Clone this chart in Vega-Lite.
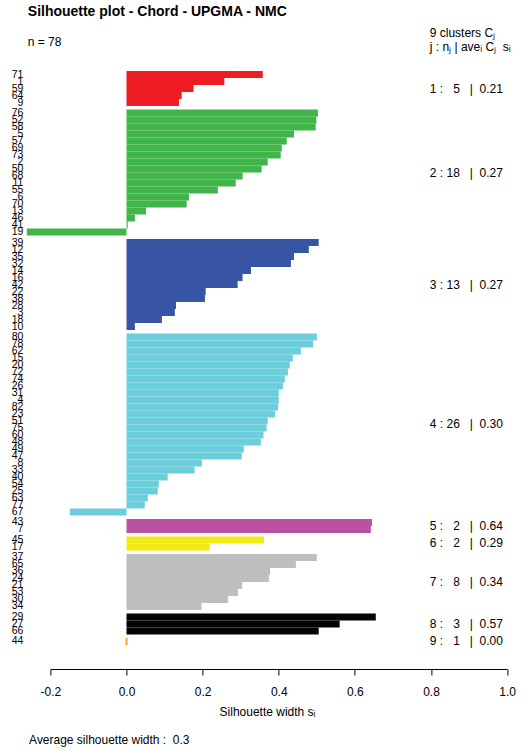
{
  "$schema": "https://vega.github.io/schema/vega-lite/v6.json",
  "padding": {"left": 10.4, "top": 5, "right": 21, "bottom": 5},
  "title": {
    "text": "Silhouette plot - Chord - UPGMA - NMC",
    "subtitle": "n = 78",
    "anchor": "start",
    "frame": "group",
    "dx": -22.6,
    "offset": -21,
    "fontSize": 14,
    "fontWeight": "bold",
    "subtitleFontSize": 12,
    "subtitlePadding": 18
  },
  "data": {
    "values": [
      {"cluster": 1, "id": "71", "s": 0.358},
      {"cluster": 1, "id": "1", "s": 0.257},
      {"cluster": 1, "id": "59", "s": 0.176},
      {"cluster": 1, "id": "64", "s": 0.145},
      {"cluster": 1, "id": "9", "s": 0.138},
      {"cluster": 2, "id": "76", "s": 0.503},
      {"cluster": 2, "id": "52", "s": 0.499},
      {"cluster": 2, "id": "58", "s": 0.497},
      {"cluster": 2, "id": "5", "s": 0.44},
      {"cluster": 2, "id": "57", "s": 0.421},
      {"cluster": 2, "id": "69", "s": 0.408},
      {"cluster": 2, "id": "73", "s": 0.405},
      {"cluster": 2, "id": "2", "s": 0.371},
      {"cluster": 2, "id": "50", "s": 0.355},
      {"cluster": 2, "id": "68", "s": 0.305},
      {"cluster": 2, "id": "11", "s": 0.287},
      {"cluster": 2, "id": "55", "s": 0.24},
      {"cluster": 2, "id": "6", "s": 0.164},
      {"cluster": 2, "id": "70", "s": 0.158},
      {"cluster": 2, "id": "13", "s": 0.051},
      {"cluster": 2, "id": "46", "s": 0.022},
      {"cluster": 2, "id": "41", "s": 0.003},
      {"cluster": 2, "id": "19", "s": -0.262},
      {"cluster": 3, "id": "39", "s": 0.505},
      {"cluster": 3, "id": "12", "s": 0.479},
      {"cluster": 3, "id": "35", "s": 0.44},
      {"cluster": 3, "id": "32", "s": 0.432},
      {"cluster": 3, "id": "14", "s": 0.327},
      {"cluster": 3, "id": "16", "s": 0.305},
      {"cluster": 3, "id": "42", "s": 0.292},
      {"cluster": 3, "id": "22", "s": 0.208},
      {"cluster": 3, "id": "38", "s": 0.206},
      {"cluster": 3, "id": "28", "s": 0.13},
      {"cluster": 3, "id": "3", "s": 0.127},
      {"cluster": 3, "id": "18", "s": 0.093},
      {"cluster": 3, "id": "10", "s": 0.022},
      {"cluster": 4, "id": "80", "s": 0.5},
      {"cluster": 4, "id": "78", "s": 0.49},
      {"cluster": 4, "id": "62", "s": 0.458},
      {"cluster": 4, "id": "15", "s": 0.437},
      {"cluster": 4, "id": "20", "s": 0.429},
      {"cluster": 4, "id": "72", "s": 0.424},
      {"cluster": 4, "id": "74", "s": 0.416},
      {"cluster": 4, "id": "26", "s": 0.411},
      {"cluster": 4, "id": "31", "s": 0.4},
      {"cluster": 4, "id": "4", "s": 0.4},
      {"cluster": 4, "id": "82", "s": 0.398},
      {"cluster": 4, "id": "23", "s": 0.39},
      {"cluster": 4, "id": "51", "s": 0.371},
      {"cluster": 4, "id": "75", "s": 0.368},
      {"cluster": 4, "id": "60", "s": 0.36},
      {"cluster": 4, "id": "48", "s": 0.353},
      {"cluster": 4, "id": "49", "s": 0.308},
      {"cluster": 4, "id": "47", "s": 0.303},
      {"cluster": 4, "id": "8", "s": 0.198},
      {"cluster": 4, "id": "33", "s": 0.179},
      {"cluster": 4, "id": "40", "s": 0.108},
      {"cluster": 4, "id": "54", "s": 0.085},
      {"cluster": 4, "id": "25", "s": 0.082},
      {"cluster": 4, "id": "63", "s": 0.056},
      {"cluster": 4, "id": "77", "s": 0.048},
      {"cluster": 4, "id": "67", "s": -0.149},
      {"cluster": 5, "id": "43", "s": 0.645},
      {"cluster": 5, "id": "7", "s": 0.642},
      {"cluster": 6, "id": "45", "s": 0.361},
      {"cluster": 6, "id": "17", "s": 0.219},
      {"cluster": 7, "id": "37", "s": 0.5},
      {"cluster": 7, "id": "65", "s": 0.445},
      {"cluster": 7, "id": "36", "s": 0.377},
      {"cluster": 7, "id": "24", "s": 0.374},
      {"cluster": 7, "id": "21", "s": 0.304},
      {"cluster": 7, "id": "53", "s": 0.293},
      {"cluster": 7, "id": "30", "s": 0.267},
      {"cluster": 7, "id": "34", "s": 0.197},
      {"cluster": 8, "id": "29", "s": 0.655},
      {"cluster": 8, "id": "27", "s": 0.56},
      {"cluster": 8, "id": "66", "s": 0.505},
      {"cluster": 9, "id": "44", "s": 0}
    ]
  },
  "spacing": 3.5,
  "bounds": "flush",
  "resolve": {
    "scale": {"x": "independent", "y": "independent", "color": "shared"},
    "axis": {"x": "independent", "y": "independent"}
  },
  "vconcat": [
    {
      "width": 456.7,
      "height": {"step": 7},
      "title": {
        "text": "9 clusters Cⱼ",
        "subtitle": "\u00a0j : nⱼ | aveᵢ Cⱼ\u00a0\u00a0sᵢ",
        "anchor": "start",
        "frame": "group",
        "dx": 379.4,
        "offset": 15,
        "fontSize": 12,
        "fontWeight": "normal",
        "subtitleFontSize": 12,
        "subtitlePadding": 2
      },
      "layer": [
        {
          "transform": [{"filter": "datum.cluster == 1"}],
          "mark": {"type": "bar"},
          "encoding": {
            "y": {"field": "id", "type": "nominal", "sort": null, "title": null, "scale": {"paddingInner": 0, "paddingOuter": 0}},
            "x": {"field": "s", "type": "quantitative", "scale": {"domain": [-0.2, 1], "nice": false, "zero": false}, "axis": null},
            "color": {"field": "cluster", "type": "nominal", "legend": null, "scale": {"domain": [1, 2, 3, 4, 5, 6, 7, 8, 9], "range": ["#EE1D24", "#40B549", "#3854A5", "#6CCDDC", "#B9529F", "#F1EA15", "#BEBEBE", "#050505", "#F5A81C"]}}
          }
        },
        {
          "transform": [
            {"filter": "datum.cluster == 1"},
            {"aggregate": [{"op": "mean", "field": "s", "as": "ave"}, {"op": "count", "as": "n"}], "groupby": ["cluster"]},
            {"calculate": "datum.cluster + '\u00a0:' + (datum.n < 10 ? '\u00a0\u00a0\u00a0' : '\u00a0') + datum.n + '\u00a0\u00a0\u00a0|\u00a0\u00a0' + format(datum.ave, '.2f')", "as": "label"}
          ],
          "mark": {"type": "text", "align": "left", "fontSize": 12},
          "encoding": {"x": {"datum": 0.797, "axis": null}, "text": {"field": "label"}}
        }
      ]
    },
    {
      "width": 456.7,
      "height": {"step": 7},
      "layer": [
        {
          "transform": [{"filter": "datum.cluster == 2"}],
          "mark": {"type": "bar"},
          "encoding": {
            "y": {"field": "id", "type": "nominal", "sort": null, "title": null, "scale": {"paddingInner": 0, "paddingOuter": 0}},
            "x": {"field": "s", "type": "quantitative", "scale": {"domain": [-0.2, 1], "nice": false, "zero": false}, "axis": null},
            "color": {"field": "cluster", "type": "nominal", "legend": null}
          }
        },
        {
          "transform": [
            {"filter": "datum.cluster == 2"},
            {"aggregate": [{"op": "mean", "field": "s", "as": "ave"}, {"op": "count", "as": "n"}], "groupby": ["cluster"]},
            {"calculate": "datum.cluster + '\u00a0:' + (datum.n < 10 ? '\u00a0\u00a0\u00a0' : '\u00a0') + datum.n + '\u00a0\u00a0\u00a0|\u00a0\u00a0' + format(datum.ave, '.2f')", "as": "label"}
          ],
          "mark": {"type": "text", "align": "left", "fontSize": 12},
          "encoding": {"x": {"datum": 0.797, "axis": null}, "text": {"field": "label"}}
        }
      ]
    },
    {
      "width": 456.7,
      "height": {"step": 7},
      "layer": [
        {
          "transform": [{"filter": "datum.cluster == 3"}],
          "mark": {"type": "bar"},
          "encoding": {
            "y": {"field": "id", "type": "nominal", "sort": null, "title": null, "scale": {"paddingInner": 0, "paddingOuter": 0}},
            "x": {"field": "s", "type": "quantitative", "scale": {"domain": [-0.2, 1], "nice": false, "zero": false}, "axis": null},
            "color": {"field": "cluster", "type": "nominal", "legend": null}
          }
        },
        {
          "transform": [
            {"filter": "datum.cluster == 3"},
            {"aggregate": [{"op": "mean", "field": "s", "as": "ave"}, {"op": "count", "as": "n"}], "groupby": ["cluster"]},
            {"calculate": "datum.cluster + '\u00a0:' + (datum.n < 10 ? '\u00a0\u00a0\u00a0' : '\u00a0') + datum.n + '\u00a0\u00a0\u00a0|\u00a0\u00a0' + format(datum.ave, '.2f')", "as": "label"}
          ],
          "mark": {"type": "text", "align": "left", "fontSize": 12},
          "encoding": {"x": {"datum": 0.797, "axis": null}, "text": {"field": "label"}}
        }
      ]
    },
    {
      "width": 456.7,
      "height": {"step": 7},
      "layer": [
        {
          "transform": [{"filter": "datum.cluster == 4"}],
          "mark": {"type": "bar"},
          "encoding": {
            "y": {"field": "id", "type": "nominal", "sort": null, "title": null, "scale": {"paddingInner": 0, "paddingOuter": 0}},
            "x": {"field": "s", "type": "quantitative", "scale": {"domain": [-0.2, 1], "nice": false, "zero": false}, "axis": null},
            "color": {"field": "cluster", "type": "nominal", "legend": null}
          }
        },
        {
          "transform": [
            {"filter": "datum.cluster == 4"},
            {"aggregate": [{"op": "mean", "field": "s", "as": "ave"}, {"op": "count", "as": "n"}], "groupby": ["cluster"]},
            {"calculate": "datum.cluster + '\u00a0:' + (datum.n < 10 ? '\u00a0\u00a0\u00a0' : '\u00a0') + datum.n + '\u00a0\u00a0\u00a0|\u00a0\u00a0' + format(datum.ave, '.2f')", "as": "label"}
          ],
          "mark": {"type": "text", "align": "left", "fontSize": 12},
          "encoding": {"x": {"datum": 0.797, "axis": null}, "text": {"field": "label"}}
        }
      ]
    },
    {
      "width": 456.7,
      "height": {"step": 7},
      "layer": [
        {
          "transform": [{"filter": "datum.cluster == 5"}],
          "mark": {"type": "bar"},
          "encoding": {
            "y": {"field": "id", "type": "nominal", "sort": null, "title": null, "scale": {"paddingInner": 0, "paddingOuter": 0}},
            "x": {"field": "s", "type": "quantitative", "scale": {"domain": [-0.2, 1], "nice": false, "zero": false}, "axis": null},
            "color": {"field": "cluster", "type": "nominal", "legend": null}
          }
        },
        {
          "transform": [
            {"filter": "datum.cluster == 5"},
            {"aggregate": [{"op": "mean", "field": "s", "as": "ave"}, {"op": "count", "as": "n"}], "groupby": ["cluster"]},
            {"calculate": "datum.cluster + '\u00a0:' + (datum.n < 10 ? '\u00a0\u00a0\u00a0' : '\u00a0') + datum.n + '\u00a0\u00a0\u00a0|\u00a0\u00a0' + format(datum.ave, '.2f')", "as": "label"}
          ],
          "mark": {"type": "text", "align": "left", "fontSize": 12},
          "encoding": {"x": {"datum": 0.797, "axis": null}, "text": {"field": "label"}}
        }
      ]
    },
    {
      "width": 456.7,
      "height": {"step": 7},
      "layer": [
        {
          "transform": [{"filter": "datum.cluster == 6"}],
          "mark": {"type": "bar"},
          "encoding": {
            "y": {"field": "id", "type": "nominal", "sort": null, "title": null, "scale": {"paddingInner": 0, "paddingOuter": 0}},
            "x": {"field": "s", "type": "quantitative", "scale": {"domain": [-0.2, 1], "nice": false, "zero": false}, "axis": null},
            "color": {"field": "cluster", "type": "nominal", "legend": null}
          }
        },
        {
          "transform": [
            {"filter": "datum.cluster == 6"},
            {"aggregate": [{"op": "mean", "field": "s", "as": "ave"}, {"op": "count", "as": "n"}], "groupby": ["cluster"]},
            {"calculate": "datum.cluster + '\u00a0:' + (datum.n < 10 ? '\u00a0\u00a0\u00a0' : '\u00a0') + datum.n + '\u00a0\u00a0\u00a0|\u00a0\u00a0' + format(datum.ave, '.2f')", "as": "label"}
          ],
          "mark": {"type": "text", "align": "left", "fontSize": 12},
          "encoding": {"x": {"datum": 0.797, "axis": null}, "text": {"field": "label"}}
        }
      ]
    },
    {
      "width": 456.7,
      "height": {"step": 7},
      "layer": [
        {
          "transform": [{"filter": "datum.cluster == 7"}],
          "mark": {"type": "bar"},
          "encoding": {
            "y": {"field": "id", "type": "nominal", "sort": null, "title": null, "scale": {"paddingInner": 0, "paddingOuter": 0}},
            "x": {"field": "s", "type": "quantitative", "scale": {"domain": [-0.2, 1], "nice": false, "zero": false}, "axis": null},
            "color": {"field": "cluster", "type": "nominal", "legend": null}
          }
        },
        {
          "transform": [
            {"filter": "datum.cluster == 7"},
            {"aggregate": [{"op": "mean", "field": "s", "as": "ave"}, {"op": "count", "as": "n"}], "groupby": ["cluster"]},
            {"calculate": "datum.cluster + '\u00a0:' + (datum.n < 10 ? '\u00a0\u00a0\u00a0' : '\u00a0') + datum.n + '\u00a0\u00a0\u00a0|\u00a0\u00a0' + format(datum.ave, '.2f')", "as": "label"}
          ],
          "mark": {"type": "text", "align": "left", "fontSize": 12},
          "encoding": {"x": {"datum": 0.797, "axis": null}, "text": {"field": "label"}}
        }
      ]
    },
    {
      "width": 456.7,
      "height": {"step": 7},
      "layer": [
        {
          "transform": [{"filter": "datum.cluster == 8"}],
          "mark": {"type": "bar"},
          "encoding": {
            "y": {"field": "id", "type": "nominal", "sort": null, "title": null, "scale": {"paddingInner": 0, "paddingOuter": 0}},
            "x": {"field": "s", "type": "quantitative", "scale": {"domain": [-0.2, 1], "nice": false, "zero": false}, "axis": null},
            "color": {"field": "cluster", "type": "nominal", "legend": null}
          }
        },
        {
          "transform": [
            {"filter": "datum.cluster == 8"},
            {"aggregate": [{"op": "mean", "field": "s", "as": "ave"}, {"op": "count", "as": "n"}], "groupby": ["cluster"]},
            {"calculate": "datum.cluster + '\u00a0:' + (datum.n < 10 ? '\u00a0\u00a0\u00a0' : '\u00a0') + datum.n + '\u00a0\u00a0\u00a0|\u00a0\u00a0' + format(datum.ave, '.2f')", "as": "label"}
          ],
          "mark": {"type": "text", "align": "left", "fontSize": 12},
          "encoding": {"x": {"datum": 0.797, "axis": null}, "text": {"field": "label"}}
        }
      ]
    },
    {
      "width": 456.7,
      "height": {"step": 7},
      "title": {
        "text": "Average silhouette width :\u00a0\u00a00.3",
        "orient": "bottom",
        "anchor": "start",
        "frame": "group",
        "dx": -21.3,
        "offset": 17,
        "fontSize": 12,
        "fontWeight": "normal"
      },
      "layer": [
        {
          "transform": [{"filter": "datum.cluster == 9"}],
          "mark": {"type": "bar", "stroke": "#F5A81C", "strokeWidth": 2},
          "encoding": {
            "y": {"field": "id", "type": "nominal", "sort": null, "title": null, "scale": {"paddingInner": 0, "paddingOuter": 0}},
            "x": {
              "field": "s",
              "type": "quantitative",
              "title": "Silhouette width sᵢ",
              "scale": {"domain": [-0.2, 1], "nice": false, "zero": false},
              "axis": {
                "title": "Silhouette width sᵢ",
                "values": [-0.2, 0, 0.2, 0.4, 0.6, 0.8, 1],
                "labelExpr": "datum.value < 0 ? '-' + format(-datum.value, '.1f') : format(datum.value, '.1f')",
                "offset": 24,
                "titleX": 216.6,
                "titlePadding": 9,
                "labelPadding": 12,
                "tickSize": 6,
                "grid": false,
                "labelFlush": false,
                "labelOverlap": false
              }
            },
            "color": {"field": "cluster", "type": "nominal", "legend": null}
          }
        },
        {
          "transform": [
            {"filter": "datum.cluster == 9"},
            {"aggregate": [{"op": "mean", "field": "s", "as": "ave"}, {"op": "count", "as": "n"}], "groupby": ["cluster"]},
            {"calculate": "datum.cluster + '\u00a0:' + (datum.n < 10 ? '\u00a0\u00a0\u00a0' : '\u00a0') + datum.n + '\u00a0\u00a0\u00a0|\u00a0\u00a0' + format(datum.ave, '.2f')", "as": "label"}
          ],
          "mark": {"type": "text", "align": "left", "fontSize": 12},
          "encoding": {
            "x": {
              "datum": 0.797,
              "axis": {
                "title": "Silhouette width sᵢ",
                "values": [-0.2, 0, 0.2, 0.4, 0.6, 0.8, 1],
                "labelExpr": "datum.value < 0 ? '-' + format(-datum.value, '.1f') : format(datum.value, '.1f')",
                "offset": 24,
                "titleX": 216.6,
                "titlePadding": 9,
                "labelPadding": 12,
                "tickSize": 6,
                "grid": false,
                "labelFlush": false,
                "labelOverlap": false
              }
            },
            "text": {"field": "label"}
          }
        }
      ]
    }
  ],
  "config": {
    "font": "Liberation Sans",
    "view": {"stroke": null},
    "text": {"font": "Liberation Sans", "color": "#000"},
    "title": {"font": "Liberation Sans", "subtitleFont": "Liberation Sans", "color": "#000", "subtitleColor": "#000"},
    "axisY": {
      "domain": false,
      "ticks": false,
      "tickSize": 0,
      "labelPadding": 27.6,
      "labelFont": "Liberation Sans",
      "labelFontSize": 10.5,
      "labelColor": "#000"
    },
    "axisX": {
      "domainColor": "#000",
      "tickColor": "#000",
      "labelFont": "Liberation Sans",
      "labelFontSize": 12,
      "labelColor": "#000",
      "titleFont": "Liberation Sans",
      "titleFontSize": 12,
      "titleFontWeight": "normal",
      "titleColor": "#000"
    }
  }
}
